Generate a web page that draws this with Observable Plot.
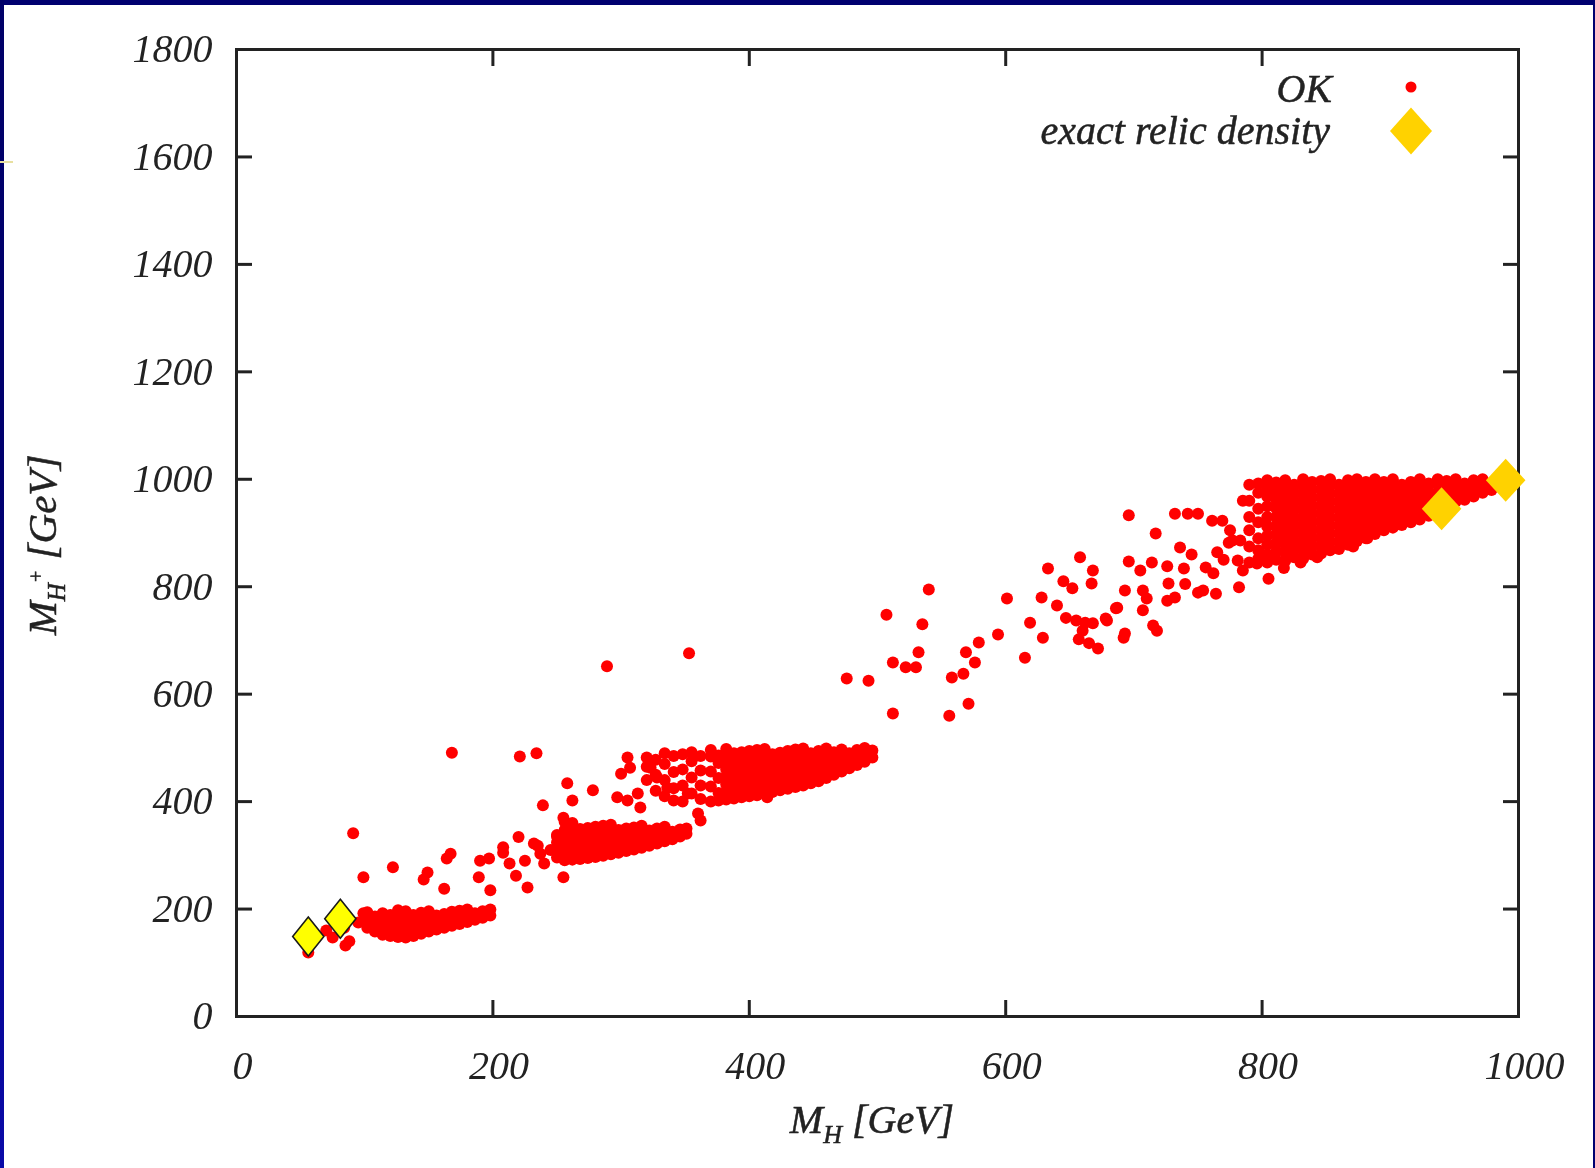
<!DOCTYPE html>
<html><head><meta charset="utf-8">
<script src="https://cdn.jsdelivr.net/npm/d3@7"></script>
<script src="https://cdn.jsdelivr.net/npm/@observablehq/plot@0.6"></script>
<style>
html,body{margin:0;padding:0;background:#fff;}
#wrap{position:relative;width:1595px;height:1168px;background:#fff;overflow:hidden;}
#chart{position:absolute;left:0;top:0;filter:blur(0.5px);}
.bar{position:absolute;}
</style></head><body>
<div id="wrap">
 <div id="chart"></div>
 <div class="bar" style="left:0;top:0;width:1595px;height:5px;background:#000070"></div>
 <div class="bar" style="left:0;top:0;width:4px;height:1168px;background:linear-gradient(#000068,#00006e 40%,#0a0aa8)"></div>
 <div class="bar" style="right:0;top:0;width:2px;height:1168px;background:#000070"></div>
 <div class="bar" style="left:0;top:161px;width:13px;height:2px;background:#e8e0a0"></div>
</div>
<script>
// ---- tick values ----
const xTicks = [0, 200, 400, 600, 800, 1000];
const yTicks = [0, 200, 400, 600, 800, 1000, 1200, 1400, 1600, 1800];

// ---- "OK" points, [M_H, M_H+] in GeV ----
const okLowStray = [[56,119],[75,147],[85,132],[88,140],[70,160],[84,165],[95,175],[99,192],[103,184],[91,341],[99,259],[122,278]];
const okLowBand = [
 [102,165],[102,180],[102,194],[108,158],[108,172],[108,186],
 [114,152],[114,165],[114,178],[114,192],[120,150],[120,163],[120,176],[120,189],
 [126,148],[126,161],[126,174],[126,187],[126,198],[132,147],[132,160],[132,173],[132,186],[132,196],
 [138,150],[138,163],[138,176],[138,189],[144,154],[144,167],[144,180],[144,193],
 [150,158],[150,171],[150,184],[150,196],[156,162],[156,175],[156,188],
 [162,165],[162,178],[162,191],[168,169],[168,182],[168,195],[174,172],[174,185],[174,197],
 [180,176],[180,188],[180,199],[186,180],[186,192],[192,184],[192,196],[198,188],[198,199]];
const okMidStray = [
 [149,268],[146,255],[167,303],[164,294],[162,238],[168,491],[190,290],[197,294],[189,259],[198,235],
 [208,315],[208,305],[213,285],[220,334],[218,262],[227,240],[221,484],[234,490],[225,290],[232,322],
 [237,303],[239,393],[235,318],[240,285],[245,310],[250,335],[255,259],[258,434],[262,402],[255,370],
 [278,421],[289,652]];
const okBand300 = [
 [250,296],[250,310],[250,324],[250,338],[256,291],[256,305],[256,319],[256,333],[256,347],[256,362],
 [262,292],[262,306],[262,320],[262,334],[262,348],[262,360],[268,293],[268,307],[268,321],[268,335],[268,349],
 [274,295],[274,309],[274,323],[274,337],[274,351],[280,297],[280,311],[280,325],[280,339],[280,353],
 [286,299],[286,313],[286,327],[286,341],[286,355],[292,302],[292,316],[292,330],[292,344],[292,357],
 [298,305],[298,319],[298,333],[298,347],[304,308],[304,322],[304,336],[304,350],
 [310,311],[310,325],[310,339],[310,352],[316,314],[316,328],[316,342],[316,355],
 [322,318],[322,332],[322,346],[328,322],[328,336],[328,350],[334,326],[334,340],[334,353],
 [340,330],[340,344],[346,335],[346,348],[351,340],[351,350]];
const okMidGap = [
 [305,482],[300,452],[307,463],[297,408],[305,402],[313,415],[315,389],[323,463],[328,445],
 [336,426],[341,402],[360,378],[362,365],[352,415],[353,676],[414,408]];
const okBand500Left = [
 [320,440],[320,465],[320,482],[327,420],[327,450],[327,478],[334,410],[334,440],[334,470],[334,490],
 [341,425],[341,455],[341,485],[348,400],[348,430],[348,460],[348,488],[355,415],[355,445],[355,475],[355,492],
 [362,405],[362,430],[362,458],[362,485]];
const okBand500 = [
 [370,400],[370,428],[370,456],[370,484],[370,496],
 [376,402],[376,416],[376,444],[376,472],[376,486],
 [382,404],[382,418],[382,432],[382,446],[382,460],[382,474],[382,488],[382,498],
 [388,406],[388,420],[388,434],[388,448],[388,462],[388,476],[388,490],
 [394,408],[394,422],[394,436],[394,450],[394,464],[394,478],[394,492],
 [400,410],[400,424],[400,438],[400,452],[400,466],[400,480],[400,494],
 [406,412],[406,426],[406,440],[406,454],[406,468],[406,482],[406,496],
 [412,415],[412,429],[412,443],[412,457],[412,471],[412,485],[412,498],
 [418,418],[418,432],[418,446],[418,460],[418,474],[418,488],
 [424,421],[424,435],[424,449],[424,463],[424,477],[424,491],
 [430,424],[430,438],[430,452],[430,466],[430,480],[430,494],
 [436,427],[436,441],[436,455],[436,469],[436,483],[436,497],
 [442,430],[442,444],[442,458],[442,472],[442,486],[442,499],
 [448,434],[448,448],[448,462],[448,476],[448,490],
 [454,438],[454,452],[454,466],[454,480],[454,494],
 [460,444],[460,458],[460,472],[460,486],[460,499],
 [466,450],[466,464],[466,478],[466,492],[472,456],[472,470],[472,484],[472,497],
 [478,462],[478,476],[478,490],[484,468],[484,482],[484,496],
 [490,474],[490,488],[490,500],[496,482],[496,495]];
const okSparse = [
 [476,629],[493,625],[507,748],[540,795],[535,730],[532,678],[512,659],[522,650],[530,650],[512,564],
 [556,560],[571,582],[558,631],[567,638],[576,659],[569,678],[579,696],[594,711],[615,668],[619,733],
 [601,778],[628,780],[633,834],[629,705],[640,765],[645,810],[652,797],[647,742],[655,737],[662,733],
 [668,732],[657,702],[665,695],[672,685],[658,855],[668,830],[667,806],[679,737],[686,760],[693,713],
 [692,705],[660,718]];
const okUpperSparse = [
 [696,933],[717,899],[736,873],[696,847],[705,830],[714,845],[726,838],[739,834],[693,793],[707,793],
 [710,778],[707,756],[687,761],[678,741],[726,774],[732,780],[715,728],[718,718],[750,789],[754,793],
 [764,787],[756,836],[762,825],[765,864],[774,882],[782,799],[781,849],[785,830],[732,936],[742,936],
 [750,936],[761,923],[769,923],[777,886],[783,886],[805,815],[745,860],[770,850],[775,905],[785,960],
 [796,843],[740,805],[727,806],[817,835],[830,845],[843,855],[871,875],[882,890]];
const okDense = [
 [790,845],[790,875],[790,905],[790,930],[790,960],[790,990],
 [797,852],[797,868],[797,890],[797,920],[797,945],[797,975],[797,992],
 [804,845],[804,860],[804,878],[804,895],[804,912],[804,930],[804,950],[804,968],[804,985],[804,998],
 [811,850],[811,866],[811,882],[811,898],[811,914],[811,930],[811,946],[811,962],[811,978],[811,994],
 [818,848],[818,863],[818,878],[818,893],[818,908],[818,923],[818,938],[818,953],[818,968],[818,983],[818,998],
 [825,855],[825,870],[825,885],[825,900],[825,915],[825,930],[825,945],[825,960],[825,975],[825,990],
 [832,852],[832,867],[832,882],[832,897],[832,912],[832,927],[832,942],[832,957],[832,972],[832,987],[832,1000],
 [839,860],[839,875],[839,890],[839,905],[839,920],[839,935],[839,950],[839,965],[839,980],[839,995],
 [846,862],[846,877],[846,892],[846,907],[846,922],[846,937],[846,952],[846,967],[846,982],[846,997],
 [853,868],[853,883],[853,898],[853,913],[853,928],[853,943],[853,958],[853,973],[853,988],[853,1000],
 [860,870],[860,885],[860,900],[860,915],[860,930],[860,945],[860,960],[860,975],[860,990],
 [867,878],[867,893],[867,908],[867,923],[867,938],[867,953],[867,968],[867,983],[867,998],
 [874,885],[874,900],[874,915],[874,930],[874,945],[874,960],[874,975],[874,990],[874,1000],
 [881,890],[881,905],[881,920],[881,935],[881,950],[881,965],[881,980],[881,995],
 [888,898],[888,913],[888,928],[888,943],[888,958],[888,973],[888,988],[888,1000],
 [895,905],[895,920],[895,935],[895,950],[895,965],[895,980],[895,995],
 [902,910],[902,925],[902,940],[902,955],[902,970],[902,985],[902,1000],
 [909,915],[909,930],[909,945],[909,960],[909,975],[909,990],
 [916,920],[916,935],[916,950],[916,965],[916,980],[916,995],
 [923,925],[923,940],[923,955],[923,970],[923,985],[923,1000],
 [930,932],[930,947],[930,962],[930,977],[930,992],[937,945],[937,960],[937,975],[937,990],[937,1000],
 [944,952],[944,967],[944,982],[944,997],[951,958],[951,973],[951,988],[951,1000],
 [958,962],[958,977],[958,992],[965,968],[965,983],[965,998],[972,975],[972,988],[972,1000],
 [979,980],[979,992],[986,986],[986,998],[993,992],[993,1000]];

// ---- "exact relic density" points ----
const relicLow = [[56,149],[81,182]];
const relicHigh = [[940,945],[990,998]];

const okPoints = [].concat(okLowStray, okLowBand, okMidStray, okBand300, okMidGap, okBand500Left, okBand500, okSparse, okUpperSparse, okDense);

function diamondSym(ratio) {
  return { draw(ctx, size) { const r = Math.sqrt(size / Math.PI); const w = r * ratio;
    ctx.moveTo(0, -r); ctx.lineTo(w, 0); ctx.lineTo(0, r); ctx.lineTo(-w, 0); ctx.closePath(); } };
}
const FONT = "'Liberation Serif','Times New Roman',serif";
const INK = "#222";
const fmt = d => String(d);

const plot = Plot.plot({
  width: 1595, height: 1168,
  marginLeft: 236, marginRight: 77, marginTop: 49, marginBottom: 152,
  style: {background: "transparent", fontFamily: FONT, color: INK, overflow: "visible"},
  x: {domain: [0, 1000], label: null},
  y: {domain: [0, 1800], label: null},
  marks: [
    Plot.axisX(xTicks, {anchor: "bottom", tickSize: -16, strokeWidth: 3, tickFormat: () => "", label: null}),
    Plot.axisX(xTicks, {anchor: "top", tickSize: -16, strokeWidth: 3, tickFormat: () => "", label: null}),
    Plot.axisY(yTicks, {anchor: "left", tickSize: -16, strokeWidth: 3, tickFormat: () => "", label: null}),
    Plot.axisY(yTicks, {anchor: "right", tickSize: -16, strokeWidth: 3, tickFormat: () => "", label: null}),
    Plot.axisX(xTicks, {anchor: "bottom", tickSize: 0, tickPadding: 34, tickFormat: fmt, fontSize: 40, fontStyle: "italic", dx: 6, stroke: INK, strokeWidth: 0.5, label: null}),
    Plot.axisY(yTicks, {anchor: "left", tickSize: 0, tickPadding: 24, tickFormat: fmt, fontSize: 40, fontStyle: "italic", stroke: INK, strokeWidth: 0.5, label: null}),
    Plot.frame({stroke: "#222", strokeWidth: 3}),
    Plot.dot(okPoints, {x: d => d[0], y: d => d[1], r: 6, fill: "#ff0000", stroke: "none"}),
    Plot.dot(relicLow, {x: d => d[0], y: d => d[1], symbol: diamondSym(0.8), r: 19.5, fill: "#ffff00", stroke: "#1a1a1a", strokeWidth: 1.6}),
    Plot.dot(relicHigh, {x: d => d[0], y: d => d[1], symbol: diamondSym(0.92), r: 21.5, fill: "#ffd200", stroke: "none"})
  ]
});
document.getElementById("chart").appendChild(plot);

// ---- legend and axis titles (real text) ----
const svg = d3.select(plot);
const g = svg.append("g").attr("font-family", FONT).attr("font-style", "italic").attr("fill", INK)
  .attr("stroke", INK).attr("stroke-width", 0.5);
g.append("text").attr("x", 1332).attr("y", 88).attr("text-anchor", "end").attr("dominant-baseline", "central").attr("font-size", 40).text("OK");
g.append("text").attr("x", 1330).attr("y", 130).attr("text-anchor", "end").attr("dominant-baseline", "central").attr("font-size", 40).text("exact relic density");
g.append("circle").attr("cx", 1411).attr("cy", 87).attr("r", 5.5).attr("fill", "#ff0000").attr("stroke", "none");
g.append("path").attr("transform", "translate(1411,131)").attr("d", "M0,-23.5L21,0L0,23.5L-21,0Z").attr("fill", "#ffd200").attr("stroke", "none");

const xl = g.append("text").attr("x", 872).attr("y", 1133).attr("text-anchor", "middle").attr("font-size", 40);
xl.append("tspan").text("M");
xl.append("tspan").attr("font-size", 26).attr("dy", 10).text("H");
xl.append("tspan").attr("dy", -10).text(" [GeV]");

const yl = g.append("text").attr("transform", "translate(56,545) rotate(-90)").attr("text-anchor", "middle").attr("font-size", 41);
yl.append("tspan").text("M");
yl.append("tspan").attr("font-size", 25).attr("dy", 9).text("H");
yl.append("tspan").attr("font-size", 20).attr("dy", -22).text("+");
yl.append("tspan").attr("dy", 13).text(" [GeV]");
</script>
</body></html>
